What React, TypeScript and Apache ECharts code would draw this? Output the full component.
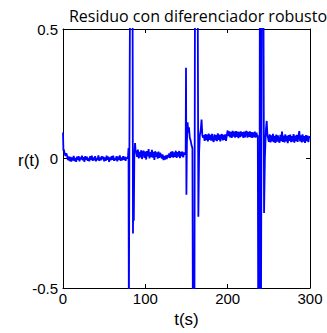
import React, { useEffect, useRef } from "react";
import * as echarts from "echarts";

// start transient (t, r)
const startPts: [number, number][] = [[0, 0.10], [0.5, 0.03], [1, 0.035], [2, 0.02], [3, 0.01]];
// quiet segment 1: t = 4..78, step 1
const quiet1Start = 4;
const quiet1 = [
  0.020, 0.010, -0.006, 0.008, -0.010, 0.006, -0.012, 0.004, -0.008, 0.010,
  -0.010, 0.002, -0.013, 0.007, -0.005, 0.009, -0.011, 0.004, -0.003, 0.011,
  -0.007, 0.005, -0.013, 0.009, -0.005, 0.007, -0.009, 0.002, -0.011, 0.009,
  -0.005, 0.011, -0.009, 0.004, -0.007, 0.009, -0.011, 0.002, -0.005, 0.012,
  -0.009, 0.004, -0.007, 0.009, -0.003, 0.007, -0.011, 0.004, -0.009, 0.011,
  -0.005, 0.007, -0.013, 0.004, -0.007, 0.009, -0.005, 0.011, -0.009, 0.002,
  -0.007, 0.009, -0.011, 0.007, -0.005, 0.012, -0.009, 0.004, -0.007, 0.009,
  -0.005, 0.007, -0.009, 0.004, 0.000,
];
const spike1: [number, number][] = [
  [79, 0.01], [79.6, 0.04], [80, -0.62], [80.6, 0.0], [81.4, 0.62], [84.5, 0.62],
  [85, -0.29], [85.5, -0.05], [86, -0.24], [86.6, 0.0], [87.5, 0.06], [88.2, 0.03],
];
// quiet segment 2: t = 89..147
const quiet2Start = 89;
const quiet2 = [
  0.028, 0.006, 0.034, 0.000, 0.026, 0.004, 0.032, -0.002, 0.024, 0.030,
  0.002, 0.027, -0.004, 0.029, 0.008, 0.036, 0.000, 0.025, 0.005, 0.033,
  0.003, 0.026, -0.005, 0.028, 0.006, 0.024, -0.001, 0.027, 0.002, 0.022,
  0.012, 0.000, 0.016, -0.006, 0.010, -0.004, 0.012, -0.002, 0.014, 0.004,
  0.020, 0.002, 0.026, 0.005, 0.028, 0.003, 0.024, 0.006, 0.030, 0.002,
  0.025, 0.007, 0.029, 0.001, 0.026, 0.008, 0.027, 0.004, 0.024,
];
const spike2: [number, number][] = [
  [148, 0.015], [149, 0.022], [149.4, 0.35], [149.9, -0.14], [150.5, 0.06], [151.3, 0.14],
  [152.2, 0.10], [153, 0.12], [154, 0.08], [155, 0.07], [156.2, 0.05], [157.2, 0.04],
  [157.8, -0.65], [159.6, -0.65], [160.3, 0.65], [163.6, 0.65], [164.4, -0.225],
  [165.3, 0.02], [166.2, 0.09], [167.3, 0.11], [168.3, 0.15], [169.2, 0.09], [170.2, 0.08],
];
// quiet segment 3: t = 171..199
const quiet3Start = 171;
const quiet3 = [
  0.090, 0.068, 0.094, 0.071, 0.092, 0.066, 0.096, 0.072, 0.091, 0.069,
  0.095, 0.073, 0.064, 0.093, 0.070, 0.090, 0.067, 0.097, 0.072, 0.092,
  0.066, 0.089, 0.094, 0.070, 0.091, 0.072, 0.093, 0.068, 0.090,
];
// quiet segment 4: t = 200..236
const quiet4Start = 200;
const quiet4 = [
  0.108, 0.086, 0.105, 0.082, 0.103, 0.080, 0.107, 0.085, 0.104, 0.081,
  0.106, 0.084, 0.104, 0.079, 0.103, 0.083, 0.105, 0.086, 0.102, 0.080,
  0.104, 0.082, 0.101, 0.106, 0.081, 0.103, 0.084, 0.105, 0.082, 0.102,
  0.080, 0.101, 0.083, 0.104, 0.081, 0.100, 0.084,
];
const spike3: [number, number][] = [
  [236.6, 0.09], [237.2, -0.7], [238.6, -0.7], [239.1, 0.7], [239.9, 0.7], [240.4, -0.7],
  [240.9, -0.7], [241.5, 0.7], [243.4, 0.7], [244.2, -0.21], [245.2, 0.0], [246.4, 0.11],
  [247.4, 0.145], [248.3, 0.09],
];
// quiet segment 5: t = 249..300
const quiet5Start = 249;
const quiet5 = [
  0.090, 0.064, 0.093, 0.062, 0.089, 0.066, 0.095, 0.063, 0.087, 0.060,
  0.092, 0.065, 0.089, 0.068, 0.061, 0.091, 0.067, 0.104, 0.064, 0.088,
  0.062, 0.093, 0.066, 0.087, 0.059, 0.090, 0.068, 0.092, 0.063, 0.086,
  0.065, 0.094, 0.061, 0.088, 0.067, 0.091, 0.064, 0.087, 0.106, 0.066,
  0.089, 0.062, 0.093, 0.065, 0.086, 0.060, 0.090, 0.067, 0.088, 0.063,
  0.085, 0.079,
];

const xTicks = { min: 0, max: 300, interval: 100 };
const yTicks = { min: -0.5, max: 0.5, interval: 0.5 };

const seg = (start: number, vals: number[]): [number, number][] =>
  vals.map((v, i) => [start + i, v]);

export default function App() {
  const ref = useRef<HTMLDivElement>(null);
  useEffect(() => {
    if (!ref.current) return;
    const chart = echarts.init(ref.current, null, { renderer: "svg" });
    const data = [
      ...startPts,
      ...seg(quiet1Start, quiet1),
      ...spike1,
      ...seg(quiet2Start, quiet2),
      ...spike2,
      ...seg(quiet3Start, quiet3),
      ...seg(quiet4Start, quiet4),
      ...spike3,
      ...seg(quiet5Start, quiet5),
    ];
    const font = "Liberation Sans, Arial, sans-serif";
    const axisCommon = {
      axisLine: { show: true, onZero: false, lineStyle: { color: "#000", width: 1 } },
      axisTick: { show: true, inside: true, length: 4, lineStyle: { color: "#000" } },
      splitLine: { show: false },
    };
    chart.setOption({
      animation: false,
      backgroundColor: "#fff",
      title: {
        text: "Residuo con diferenciador robusto",
        left: 193,
        top: 3,
        textAlign: "center",
        textStyle: { fontFamily: "Open Sans, sans-serif", fontSize: 16, fontWeight: "normal", color: "#000" },
      },
      graphic: [
        {
          type: "text",
          left: 18,
          top: 152,
          style: { text: "r(t)", fill: "#000", font: "17px Liberation Sans, Arial, sans-serif" },
        },
      ],
      grid: { left: 63, right: 17, top: 29, bottom: 40, containLabel: false },
      xAxis: [
        {
          type: "value",
          ...xTicks,
          ...axisCommon,
          position: "bottom",
          axisLabel: { color: "#000", fontFamily: font, fontSize: 15, margin: 3 },
          name: "t(s)",
          nameLocation: "middle",
          nameGap: 23,
          nameTextStyle: { color: "#000", fontFamily: font, fontSize: 17 },
        },
        {
          type: "value",
          ...xTicks,
          ...axisCommon,
          position: "top",
          axisLabel: { show: false },
        },
      ],
      yAxis: [
        {
          type: "value",
          ...yTicks,
          ...axisCommon,
          position: "left",
          axisLabel: { color: "#000", fontFamily: font, fontSize: 15, margin: 5 },
        },
        {
          type: "value",
          ...yTicks,
          ...axisCommon,
          position: "right",
          axisLabel: { show: false },
        },
      ],
      series: [
        {
          type: "line",
          data,
          xAxisIndex: 0,
          yAxisIndex: 0,
          showSymbol: false,
          clip: true,
          lineStyle: { color: "#0000ff", width: 1.8 },
        },
      ],
    });
    return () => chart.dispose();
  }, []);
  return (
    <div
      ref={ref}
      style={{ position: "fixed", left: 0, top: 0, width: 327, height: 333 }}
    />
  );
}
